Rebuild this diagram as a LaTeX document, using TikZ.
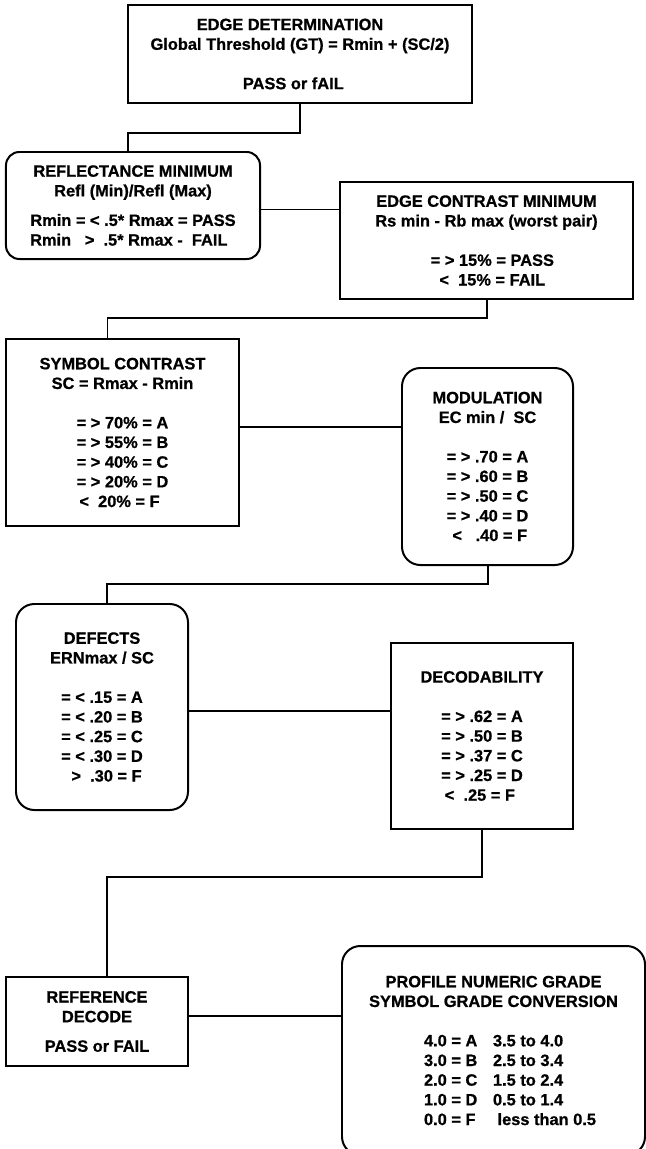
\documentclass[tikz,border=0pt]{standalone}
\usepackage{fontspec}
\setmainfont{Liberation Sans}[BoldFeatures={FakeBold=0.8}]
\usetikzlibrary{calc}
\newcommand\gradeline[2]{\makebox[4.17cm][l]{\makebox[2.07cm][l]{#1}#2}}

\begin{document}
\begin{tikzpicture}[x=0.03cm,y=-0.03cm,line width=1.7pt,
    every node/.style={font=\bfseries\fontsize{14}{16.8}\selectfont,align=center,inner sep=0pt,outer sep=0pt},
    sqbox/.style={draw},
    rdbox/.style={draw,rounded corners=0.55cm}]
    \useasboundingbox (0,0) rectangle (646,1149);
    \clip (0,0) rectangle (646,1149);

    % pass / fail checks
    \node[sqbox,minimum width=10.32cm,minimum height=2.94cm] (edge) at (300,54)
      {EDGE DETERMINATION\hspace*{0.6cm}\\Global Threshold (GT) = Rmin + (SC/2)\hspace*{0.3cm}\\[16.8pt]PASS or fAIL\hspace*{0.4cm}};
    \node[rdbox,rounded corners=0.4cm,minimum width=7.62cm,minimum height=3.21cm] (refl) at (133,205.5)
      {REFLECTANCE MINIMUM\\Refl (Min)/Refl (Max)\\[8.4pt]Rmin = < .5* Rmax = PASS\\Rmin\ \ \ > \ .5* Rmax -\ \ FAIL\hspace*{0.25cm}};
    \node[sqbox,minimum width=8.79cm,minimum height=3.51cm] (ecm) at (486.5,240.5)
      {EDGE CONTRAST MINIMUM\\Rs min - Rb max (worst pair)\\[16.8pt]\hspace*{0.35cm}= > 15\% = PASS\\\hspace*{0.35cm}<\ \ 15\% = FAIL};

    % graded parameters
    \node[sqbox,minimum width=6.99cm,minimum height=5.61cm] (sc) at (122.5,432.5)
      {SYMBOL CONTRAST\\SC = Rmax - Rmin\\[16.8pt]= > 70\% = A\hspace*{0.45cm}\\= > 55\% = B\hspace*{0.45cm}\\= > 40\% = C\hspace*{0.45cm}\\= > 20\% = D\hspace*{0.45cm}\\\ \ <\ \ 20\% = F\hspace*{0.45cm}};
    \node[rdbox,minimum width=5.13cm,minimum height=5.91cm] (mod) at (487.5,466.5)
      {MODULATION\\EC min /\ \ SC\hspace*{0.4cm}\\[16.8pt]= > .70 = A\\= > .60 = B\\= > .50 = C\\= > .40 = D\\\ <\ \ \ .40 = F};
    \node[rdbox,minimum width=5.16cm,minimum height=6.18cm] (def) at (102,707)
      {DEFECTS\\ERNmax / SC\\[16.8pt]= < .15 = A\\= < .20 = B\\= < .25 = C\\= < .30 = D\\\ \ >\ \ .30 = F};
    \node[sqbox,minimum width=5.46cm,minimum height=5.58cm] (dec) at (482,736)
      {DECODABILITY\\[16.8pt]= > .62 = A\hspace*{0.4cm}\\= > .50 = B\hspace*{0.4cm}\\= > .37 = C\hspace*{0.4cm}\\= > .25 = D\hspace*{0.4cm}\\\ \ <\ \ .25 = F\hspace*{0.4cm}};

    % decode and final grade
    \node[sqbox,minimum width=5.46cm,minimum height=2.67cm] (ref) at (97,1021.5)
      {REFERENCE\\DECODE\\[8.4pt]PASS or FAIL};
    \node[rdbox,minimum width=9.09cm,minimum height=6.27cm] (prof) at (493.5,1050.5)
      {PROFILE NUMERIC GRADE\\SYMBOL GRADE CONVERSION\\[16.8pt]
       \gradeline{4.0 = A}{3.5 to 4.0}\\\gradeline{3.0 = B}{2.5 to 3.4}\\
       \gradeline{2.0 = C}{1.5 to 2.4}\\\gradeline{1.0 = D}{0.5 to 1.4}\\
       \gradeline{0.0 = F}{\ less than 0.5}};

    % links
    \draw (edge.south) -- ++(0,30) -| ($(refl.north)+(-5,0)$);
    \draw ($(refl.east)+(0,4)$) -| (ecm.west);
    \draw (ecm.south) -- ++(0,19) -| ($(sc.north)+(-15,0)$);
    \draw ($(sc.east)+(0,-6)$) -| (mod.west);
    \draw (mod.south) -- ++(0,19) -| ($(def.north)+(5,0)$);
    \draw ($(def.east)+(0,4)$) -| (dec.west);
    \draw (dec.south) -- ++(0,48) -| ($(ref.north)+(10,0)$);
    \draw ($(ref.east)+(0,-6)$) -| (prof.west);
  \end{tikzpicture}
\end{document}
